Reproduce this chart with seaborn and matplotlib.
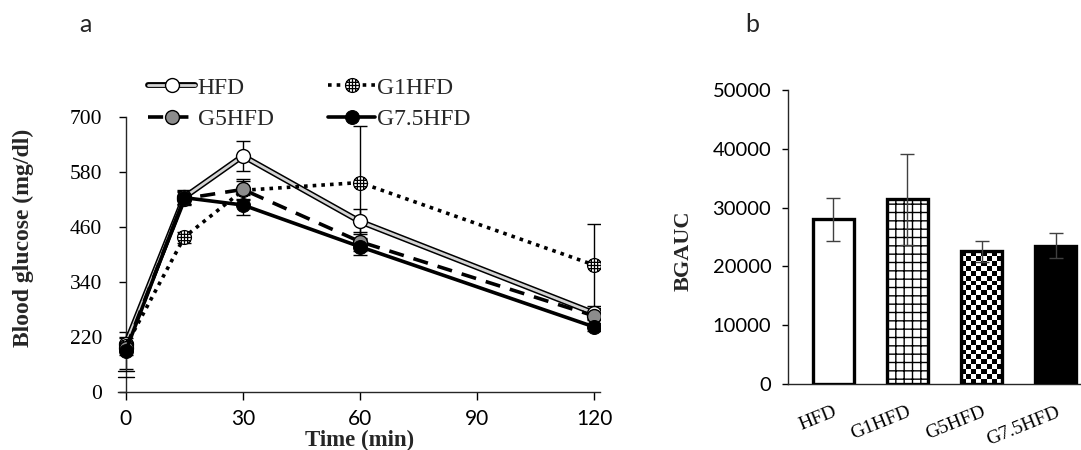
import numpy as np
import pandas as pd
import matplotlib
matplotlib.use("Agg")
import matplotlib.pyplot as plt
from matplotlib.path import Path
from matplotlib.legend_handler import HandlerTuple
import seaborn as sns

# ---- data ----
times = [0, 15, 30, 60, 120]
groups = ["HFD", "G1HFD", "G5HFD", "G7.5HFD"]

glu_hfd = [205, 525, 615, 472, 272]
glu_g1 = [200, 438, 540, 557, 377]
glu_g5 = [195, 522, 542, 428, 266]
glu_g75 = [190, 524, 508, 417, 242]

err_hfd = [12, 15, 33, 27, 12]
err_g1 = [10, 12, 20, 123, 90]
err_g5 = [15, 14, 23, 20, 10]
err_g75 = [40, 14, 22, 18, 8]

auc = [28000, 31400, 22600, 23500]
auc_err = [3600, 7700, 1800, 2100]

# broken y axis: the bottom tick (100 on the scale) is labelled 0
y_ticks = [100, 220, 340, 460, 580, 700]
y_ticklabels = ["0", "220", "340", "460", "580", "700"]
x_ticks = [0, 30, 60, 90, 120]
auc_ticks = [0, 10000, 20000, 30000, 40000, 50000]

SERIF = ["Liberation Serif", "DejaVu Serif"]
SANS = ["Lato", "DejaVu Sans"]

sns.set_theme(style="ticks")
plt.rcParams["font.family"] = SERIF
plt.rcParams["hatch.linewidth"] = 1.0
plt.rcParams["axes.linewidth"] = 1.0

W, H = 1081, 450
fig = plt.figure(figsize=(W / 100, H / 100), dpi=100)

# ---- panel a: glucose curves ----
ax1 = fig.add_axes([118 / W, 1 - 392 / H, (600 - 118) / W, (392 - 117) / H])

df = pd.DataFrame({"time": times, "HFD": glu_hfd, "G1HFD": glu_g1,
                   "G5HFD": glu_g5, "G7.5HFD": glu_g75})
errs = {"HFD": err_hfd, "G1HFD": err_g1, "G5HFD": err_g5, "G7.5HFD": err_g75}

for g in groups:
    ax1.errorbar(df["time"], df[g], yerr=errs[g], fmt="none", ecolor="black",
                 elinewidth=1.0, capsize=5, capthick=1.0, zorder=2)

# circle with grid lines inside, for G1HFD
parts = [Path.unit_circle()]
for c in (-0.45, 0.0, 0.45):
    h = np.sqrt(1 - c * c)
    parts.append(Path([[c, -h], [c, h]]))
    parts.append(Path([[-h, c], [h, c]]))
grid_marker = Path.make_compound_path(*parts)

# HFD: double line (black outline, light grey core)
sns.lineplot(data=df, x="time", y="HFD", ax=ax1, color="black", lw=4.2, zorder=3)
sns.lineplot(data=df, x="time", y="HFD", ax=ax1, color="#d4d4d4", lw=2.0,
             marker="o", markersize=10, markerfacecolor="white",
             markeredgecolor="black", markeredgewidth=1.0, zorder=3.1)
sns.lineplot(data=df, x="time", y="G1HFD", ax=ax1, color="black", lw=2.6,
             linestyle=(0, (1, 1.4)), marker=grid_marker, markersize=10,
             markerfacecolor="white", markeredgecolor="black",
             markeredgewidth=0.9, zorder=4)
sns.lineplot(data=df, x="time", y="G5HFD", ax=ax1, color="black", lw=2.6,
             linestyle=(0, (4.2, 2.8)), marker="o", markersize=10,
             markerfacecolor="#8c8c8c", markeredgecolor="black",
             markeredgewidth=1.0, zorder=5)
sns.lineplot(data=df, x="time", y="G7.5HFD", ax=ax1, color="black", lw=2.6,
             marker="o", markersize=10, markerfacecolor="black",
             markeredgecolor="black", zorder=6)

lines = ax1.get_lines()
h_hfd = (lines[-5], lines[-4])
h_g1, h_g5, h_g75 = lines[-3], lines[-2], lines[-1]
# legend fills column-wise: order so rows read HFD, G1HFD / G5HFD, G7.5HFD
ax1.legend([h_hfd, h_g5, h_g1, h_g75], ["HFD", "G5HFD", "G1HFD", "G7.5HFD"],
           ncol=2, loc="upper left",
           bbox_to_anchor=(148 / W, 1 - 77 / H), bbox_transform=fig.transFigure,
           frameon=False, fontsize=17, handlelength=2.0, handletextpad=0.1,
           columnspacing=2.3, labelspacing=0.42, borderpad=0, borderaxespad=0,
           handler_map={tuple: HandlerTuple(ndivide=1)})

ax1.set_xlim(-2, 121.5)
ax1.set_ylim(100, 700)
ax1.spines["left"].set_position(("data", 0))
ax1.spines[["top", "right"]].set_visible(False)
ax1.set_xticks(x_ticks)
ax1.set_xticklabels([str(t) for t in x_ticks], family=SANS, fontsize=15)
ax1.set_yticks(y_ticks)
ax1.set_yticklabels(y_ticklabels, fontsize=15.5)
ax1.tick_params(axis="y", direction="out", length=5, width=1, pad=12, colors="black")
ax1.tick_params(axis="x", direction="out", length=6, width=1, pad=6, colors="black")
ax1.set_xlabel("")
ax1.set_ylabel("")

# axis break marks between 0 and 220
for yb in (146, 132):
    ax1.plot([-2, 2], [yb, yb], color="black", lw=1.0, clip_on=False, zorder=7)

fig.text(360 / W, 1 - 440 / H, "Time (min)", ha="center", va="center",
         fontsize=16.5, fontweight="bold")
fig.text(23 / W, 1 - 238 / H, "Blood glucose (mg/dl)", ha="center", va="center",
         rotation=90, fontsize=17, fontweight="bold")
fig.text(85 / W, 1 - 24 / H, "a", ha="center", va="center", family=SANS, fontsize=18)

# ---- panel b: AUC bars ----
ax2 = fig.add_axes([788 / W, 1 - 384 / H, 1 - 788 / W, (384 - 90) / H])
df_auc = pd.DataFrame({"group": groups, "auc": auc})
sns.barplot(data=df_auc, x="group", y="auc", ax=ax2, color="white",
            edgecolor="black", linewidth=2.4, width=0.55, errorbar=None,
            saturation=1, zorder=3)
ax2.errorbar(np.arange(len(groups)), auc, yerr=auc_err, fmt="none",
             ecolor="#404040", elinewidth=1.0, capsize=5, capthick=1.0, zorder=5)

ax2.set_xlim(-0.61, 3.34)
ax2.set_ylim(0, 50000)

bars = ax2.patches
for b in bars:
    b.set_facecolor("white")
bars[1].set_hatch("++")
bars[3].set_facecolor("black")

# checkerboard fill for G5HFD
cb = bars[2]
x0, w, h = cb.get_x(), cb.get_width(), cb.get_height()
p0, p1 = ax2.transData.transform([[x0, 0], [x0 + w, h]])
nx = max(1, int(round((p1[0] - p0[0]) / 5)))
ny = max(1, int(round((p1[1] - p0[1]) / 5)))
checker = np.add.outer(np.arange(ny), np.arange(nx)) % 2
img = ax2.imshow(checker, cmap="gray", extent=[x0, x0 + w, 0, h], aspect="auto",
                 interpolation="nearest", zorder=2.9)
img.set_clip_path(cb)
cb.set_facecolor("none")

ax2.set_xlim(-0.61, 3.34)
ax2.set_ylim(0, 50000)
ax2.spines[["top", "right"]].set_visible(False)
ax2.set_yticks(auc_ticks)
ax2.set_yticklabels([str(t) for t in auc_ticks], family=SANS, fontsize=14.5)
ax2.set_xticks(np.arange(len(groups)))
ax2.set_xticklabels(groups, fontsize=14, rotation=22, ha="right",
                    rotation_mode="anchor")
ax2.tick_params(axis="y", direction="out", length=4, width=1, pad=8, colors="black")
ax2.tick_params(axis="x", length=0, pad=14, colors="black")
ax2.set_xlabel("")
ax2.set_ylabel("")

fig.text(684 / W, 1 - 251 / H, "BGAUC", ha="center", va="center",
         rotation=90, fontsize=16, fontweight="bold")
fig.text(752 / W, 1 - 24 / H, "b", ha="center", va="center", family=SANS, fontsize=18)

fig.savefig("out.png", dpi=100)
